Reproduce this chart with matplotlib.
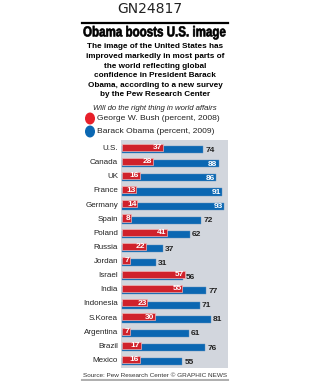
import matplotlib.pyplot as plt
import numpy as np
from matplotlib.textpath import TextPath
from matplotlib.patches import PathPatch
from matplotlib.font_manager import FontProperties
from matplotlib.transforms import Affine2D

countries = ['U.S.', 'Canada', 'UK', 'France', 'Germany', 'Spain', 'Poland', 'Russia',
             'Jordan', 'Israel', 'India', 'Indonesia', 'S.Korea', 'Argentina', 'Brazil', 'Mexico']
bush = [37, 28, 16, 13, 14, 8, 41, 22, 7, 57, 55, 23, 30, 7, 17, 16]
obama = [74, 88, 86, 91, 93, 72, 62, 37, 31, 56, 77, 71, 81, 61, 76, 55]

RED = '#d0222b'
BLUE = '#0b67b2'
GRAY = '#d2d6dd'
FAM = ['Liberation Sans', 'DejaVu Sans']

W, H = 310, 381
fig = plt.figure(figsize=(W / 100, H / 100), dpi=100)
fig.patch.set_facecolor('white')


def fx(px):
    return px / W


def fy(py):
    return 1 - py / H


# header
fig.text(fx(150), fy(9), 'GN24817', ha='center', va='center', fontsize=10, color='#222222')
fig.add_artist(plt.Line2D([fx(82), fx(228)], [fy(23), fy(23)], color='black', lw=1.6))

# condensed bold headline: a squeezed text path, in pixel units
tp = TextPath((0, 0), 'Obama boosts U.S. image', size=14.5,
              prop=FontProperties(family='Liberation Sans', weight='bold'))
bb = tp.get_extents()
tr = Affine2D().translate(-bb.x0, -bb.y0).scale(142 / bb.width, 1.0).translate(83.5, H - 39.5)
fig.add_artist(PathPatch(tr.transform_path(tp), facecolor='black', edgecolor='black', lw=0.45,
                         transform=Affine2D().scale(1 / W, 1 / H) + fig.transFigure))

sub = ['The image of the United States has',
       'improved markedly in most parts of',
       'the world reflecting global',
       'confidence in President Barack',
       'Obama, according to a new survey',
       'by the Pew Research Center']
for i, line in enumerate(sub):
    fig.text(fx(155), fy(47 + i * 9.6), line, ha='center', va='center',
             fontsize=5.9, fontweight='bold', family=FAM)

fig.text(fx(155), fy(108), 'Will do the right thing in world affairs', ha='center', va='center',
         fontsize=5.6, style='italic', family=FAM, color='#222222')

# legend
for py, col, lab in [(118.5, '#e8202a', 'George W. Bush (percent, 2008)'),
                     (131.5, BLUE, 'Barack Obama (percent, 2009)')]:
    fig.add_artist(plt.Circle((fx(90), fy(py)), 4.3 / W, color=col,
                              transform=fig.transFigure))
    fig.text(fx(97), fy(py), lab, ha='left', va='center', fontsize=6.1,
             family=FAM, color='#222222')

# chart
ax = fig.add_axes([fx(121), fy(368), (228 - 121) / W, (368 - 140) / H])
ax.set_facecolor(GRAY)
for s in ax.spines.values():
    s.set_visible(False)
ax.set_xticks([])
ax.set_yticks([])

scale = 1.097
ax.set_xlim(-1 / scale, (228 - 122) / scale)
row = 14.13
ax.set_ylim((368 - 148.5) / row, (140 - 148.5) / row)

y = np.arange(len(countries))
ax.barh(y + 0.08, obama, height=0.5, color=BLUE, edgecolor='#5f8fc0', lw=0.3, zorder=2)
ax.barh(y - 0.08, bush, height=0.5, color=RED, edgecolor='#f2b5b5', lw=0.5, zorder=3)

for i, (b, o) in enumerate(zip(bush, obama)):
    ax.text(b - 0.6, i - 0.06, str(b), ha='right', va='center', fontsize=6,
            fontweight='bold', color='white', zorder=4, family=FAM)
    if o >= 85:
        ax.text(o - 1, i + 0.12, str(o), ha='right', va='center', fontsize=6,
                fontweight='bold', color='white', zorder=4, family=FAM)
    else:
        ax.text(o + 2, i + 0.12, str(o), ha='left', va='center', fontsize=6,
                fontweight='bold', color='#222222', zorder=4, family=FAM)
    fig.text(fx(118), fy(148.5 + i * row), countries[i], ha='right', va='center',
             fontsize=5.8, color='#222222', family=FAM)

# footer
fig.text(fx(155), fy(375.5), 'Source: Pew Research Center \u00a9 GRAPHIC NEWS', ha='center',
         va='center', fontsize=4.6, color='#333333', family=FAM)
fig.add_artist(plt.Line2D([fx(82), fx(228)], [fy(380), fy(380)], color='#b0b0b0', lw=1.5))

fig.savefig('out.png', dpi=100)
